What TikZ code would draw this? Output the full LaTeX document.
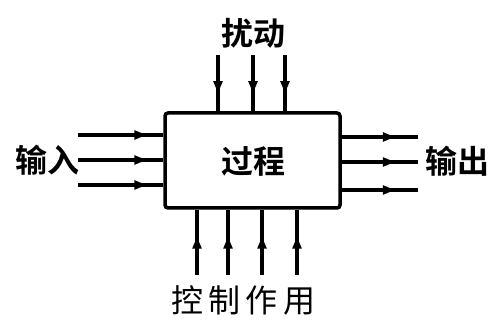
\documentclass[tikz,border=0pt]{standalone}
\usepackage{fontspec}
\newfontfamily\cjk{Noto Sans CJK SC}
\newfontfamily\cjkb{Noto Sans CJK SC Bold}
\usetikzlibrary{arrows.meta,decorations.markings}
\tikzset{
  lbl/.style={font=\cjkb\fontsize{32}{34}\selectfont, inner sep=0pt},
  lblr/.style={font=\cjk\fontsize{32}{34}\selectfont, inner sep=0pt},
  procbox/.style={draw, line width=3.5pt, rounded corners=3pt, minimum width=175pt, minimum height=95pt, inner sep=0pt},
  flow/.style={line width=3.5pt, postaction={decorate}},
  tipat/.style={decoration={markings, mark=at position #1 with {\arrow{Latex[length=16pt,width=10pt]}}}}
}
\begin{document}
\begin{tikzpicture}[x=1pt,y=1pt]
\useasboundingbox (0,0) rectangle (492,321);
\node[procbox] (box) at (252.5,160.5) {};
\node[lbl] (proc) at (253,160) {过程};
\node[lbl] (dist) at (253,288) {扰动};
\node[lbl] (inp) at (47,161) {输入};
\node[lbl] (outp) at (457,160) {输出};
\node[lblr] (ctrl) at (243,21) {控\,制\,作\,用};
% disturbance
\foreach \i/\x in {1/218,2/253,3/285}{
  \coordinate (d\i) at (\x,266);
  \draw[flow,tipat=0.75] (d\i) -- (d\i |- box.north);
}
% inputs
\foreach \i/\y in {1/186,2/161,3/136}{
  \coordinate (i\i) at (78,\y);
  \draw[flow,tipat=0.85] (i\i) -- (i\i -| box.west);
}
% outputs
\foreach \i/\y in {1/184,2/159,3/131}{
  \coordinate (o\i) at (418,\y);
  \draw[flow,tipat=0.75] (o\i -| box.east) -- (o\i);
}
% control
\foreach \i/\x in {1/197,2/228,3/262,4/297}{
  \coordinate (c\i) at (\x,46);
  \draw[flow,tipat=0.65] (c\i) -- (c\i |- box.south);
}
\end{tikzpicture}
\end{document}
